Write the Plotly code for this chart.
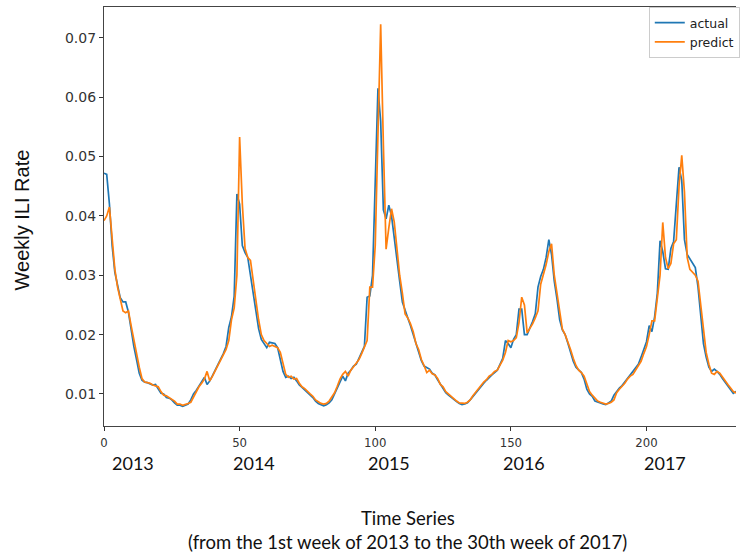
import plotly.graph_objects as go

actual = [
    0.0472, 0.0470, 0.0420, 0.0350, 0.0305, 0.0280, 0.0262, 0.0255, 0.0255, 0.0238,
    0.0205, 0.0180, 0.0158, 0.0135, 0.0123, 0.0120, 0.0119, 0.0117, 0.0115, 0.0116,
    0.0108, 0.0101, 0.0100, 0.0094, 0.0093, 0.0090, 0.0085, 0.0081, 0.0081, 0.0079,
    0.0081, 0.0083, 0.0090, 0.0100, 0.0106, 0.0113, 0.0120, 0.0128, 0.0116, 0.0122,
    0.0131, 0.0140, 0.0150, 0.0160, 0.0168, 0.0180, 0.0212, 0.0230, 0.0265, 0.0437,
    0.0420, 0.0350, 0.0338, 0.0330, 0.0300, 0.0270, 0.0240, 0.0210, 0.0192, 0.0185,
    0.0178, 0.0187, 0.0186, 0.0185, 0.0178, 0.0158, 0.0138, 0.0128, 0.0130, 0.0126,
    0.0128, 0.0122, 0.0115, 0.0111, 0.0107, 0.0103, 0.0099, 0.0094, 0.0088, 0.0084,
    0.0082, 0.0080, 0.0082, 0.0085, 0.0090, 0.0100, 0.0110, 0.0122, 0.0130, 0.0122,
    0.0135, 0.0140, 0.0147, 0.0150, 0.0161, 0.0170, 0.0180, 0.0263, 0.0265, 0.0300,
    0.0450, 0.0615, 0.0560, 0.0410, 0.0395, 0.0418, 0.0400, 0.0360, 0.0320, 0.0290,
    0.0255, 0.0240, 0.0228, 0.0215, 0.0200, 0.0188, 0.0170, 0.0156, 0.0147, 0.0144,
    0.0142, 0.0135, 0.0132, 0.0124, 0.0116, 0.0110, 0.0102, 0.0098, 0.0094, 0.0091,
    0.0087, 0.0084, 0.0082, 0.0083, 0.0085, 0.0090, 0.0096, 0.0102, 0.0108, 0.0113,
    0.0118, 0.0123, 0.0128, 0.0132, 0.0136, 0.0140, 0.0150, 0.0160, 0.0190, 0.0185,
    0.0178, 0.0192, 0.0200, 0.0243, 0.0243, 0.0200, 0.0200, 0.0210, 0.0222, 0.0235,
    0.0280, 0.0298, 0.0310, 0.0330, 0.0360, 0.0335, 0.0290, 0.0260, 0.0225, 0.0208,
    0.0200, 0.0186, 0.0170, 0.0155, 0.0145, 0.0140, 0.0136, 0.0125, 0.0108, 0.0100,
    0.0096, 0.0088, 0.0087, 0.0085, 0.0083, 0.0082, 0.0085, 0.0088, 0.0098, 0.0105,
    0.0110, 0.0114, 0.0120, 0.0128, 0.0133, 0.0138, 0.0145, 0.0150, 0.0162, 0.0175,
    0.0188, 0.0215, 0.0205, 0.0230, 0.0270, 0.0358, 0.0340, 0.0311, 0.0310, 0.0345,
    0.0357, 0.0420, 0.0482, 0.0460, 0.0360, 0.0335, 0.0328, 0.0320, 0.0313, 0.0280,
    0.0230, 0.0185, 0.0162, 0.0145, 0.0138, 0.0142, 0.0138, 0.0133, 0.0126, 0.0120,
    0.0114, 0.0108, 0.0101, 0.0104, 0.0104, 0.0102, 0.0100, 0.0098, 0.0097,
]

predict = [
    0.0392, 0.0400, 0.0415, 0.0360, 0.0310, 0.0280, 0.0260, 0.0240, 0.0237, 0.0240,
    0.0215, 0.0190, 0.0165, 0.0145, 0.0126, 0.0120, 0.0119, 0.0118, 0.0115, 0.0114,
    0.0112, 0.0104, 0.0098, 0.0097, 0.0094, 0.0090, 0.0088, 0.0083, 0.0083, 0.0081,
    0.0082, 0.0084, 0.0086, 0.0095, 0.0104, 0.0112, 0.0118, 0.0125, 0.0138, 0.0122,
    0.0130, 0.0138, 0.0148, 0.0157, 0.0166, 0.0175, 0.0190, 0.0225, 0.0245, 0.0300,
    0.0533, 0.0420, 0.0345, 0.0330, 0.0325, 0.0290, 0.0255, 0.0225, 0.0200, 0.0190,
    0.0185, 0.0180, 0.0182, 0.0180, 0.0178, 0.0170, 0.0150, 0.0133, 0.0128, 0.0130,
    0.0125, 0.0126, 0.0118, 0.0112, 0.0109, 0.0104, 0.0100, 0.0096, 0.0090, 0.0087,
    0.0084, 0.0083, 0.0084, 0.0088, 0.0094, 0.0102, 0.0113, 0.0125, 0.0133, 0.0138,
    0.0130, 0.0140, 0.0146, 0.0152, 0.0158, 0.0168, 0.0178, 0.0190, 0.0280, 0.0280,
    0.0350, 0.0530, 0.0723, 0.0520, 0.0344, 0.0380, 0.0412, 0.0390, 0.0340, 0.0300,
    0.0270, 0.0235, 0.0228, 0.0218, 0.0205, 0.0185, 0.0175, 0.0158, 0.0148, 0.0136,
    0.0140, 0.0134, 0.0132, 0.0126, 0.0116, 0.0112, 0.0104, 0.0100, 0.0095, 0.0092,
    0.0088, 0.0085, 0.0084, 0.0084, 0.0086, 0.0090, 0.0097, 0.0103, 0.0110, 0.0114,
    0.0120, 0.0124, 0.0130, 0.0133, 0.0138, 0.0140, 0.0148, 0.0157, 0.0170, 0.0190,
    0.0188, 0.0190, 0.0195, 0.0220, 0.0263, 0.0250, 0.0203, 0.0210, 0.0218, 0.0228,
    0.0240, 0.0285, 0.0300, 0.0318, 0.0340, 0.0353, 0.0300, 0.0268, 0.0235, 0.0209,
    0.0200, 0.0188, 0.0175, 0.0160, 0.0148, 0.0140, 0.0136, 0.0130, 0.0115, 0.0104,
    0.0098, 0.0092, 0.0088, 0.0086, 0.0084, 0.0083, 0.0084, 0.0086, 0.0090, 0.0102,
    0.0108, 0.0113, 0.0118, 0.0125, 0.0130, 0.0133, 0.0140, 0.0148, 0.0155, 0.0168,
    0.0180, 0.0200, 0.0223, 0.0223, 0.0260, 0.0300, 0.0389, 0.0330, 0.0311, 0.0320,
    0.0353, 0.0360, 0.0450, 0.0502, 0.0440, 0.0330, 0.0310, 0.0305, 0.0300, 0.0290,
    0.0250, 0.0200, 0.0170, 0.0150, 0.0135, 0.0133, 0.0138, 0.0135, 0.0128, 0.0122,
    0.0116, 0.0110, 0.0104, 0.0102, 0.0105, 0.0103, 0.0101, 0.0099, 0.0098,
]

weeks = list(range(len(actual)))
x_ticks = [0, 50, 100, 150, 200]
y_ticks = [0.01, 0.02, 0.03, 0.04, 0.05, 0.06, 0.07]
year_labels = ["2013", "2014", "2015", "2016", "2017"]
year_pos = [0.0456, 0.2374, 0.4513, 0.6651, 0.8884]

fig = go.Figure()
fig.add_trace(go.Scatter(x=weeks, y=actual, mode="lines", name="actual",
                         line=dict(color="#1f77b4", width=1.7)))
fig.add_trace(go.Scatter(x=weeks, y=predict, mode="lines", name="predict",
                         line=dict(color="#ff7f0e", width=1.7)))

cal = "Lato, Open Sans, sans-serif"
annotations = []
for lab, px in zip(year_labels, year_pos):
    annotations.append(dict(text=lab, x=px, y=-0.088, xref="paper", yref="paper",
                            showarrow=False, xanchor="center", yanchor="middle",
                            font=dict(family=cal, size=18, color="#111")))
annotations.append(dict(text="Time Series", x=0.481, y=-0.2196, xref="paper", yref="paper",
                        showarrow=False, xanchor="center", yanchor="middle",
                        font=dict(family=cal, size=18.5, color="#111")))
annotations.append(dict(text="(from the 1st week of 2013 to the 30th week of 2017)",
                        x=0.481, y=-0.2768, xref="paper", yref="paper",
                        showarrow=False, xanchor="center", yanchor="middle",
                        font=dict(family=cal, size=18.5, color="#111")))
annotations.append(dict(text="Weekly ILI Rate", x=-0.129, y=0.4916, xref="paper", yref="paper",
                        showarrow=False, xanchor="center", yanchor="middle", textangle=-90,
                        font=dict(family="Liberation Sans, Arial, sans-serif", size=20, color="#111")))

fig.update_layout(
    width=740, height=556,
    margin=dict(l=104, r=0, t=7, b=130),
    plot_bgcolor="white", paper_bgcolor="white",
    showlegend=True,
    legend=dict(x=0.862, y=1.0, xanchor="left", yanchor="top",
                bgcolor="white", bordercolor="#cccccc", borderwidth=1,
                font=dict(family="DejaVu Sans, sans-serif", size=12.5, color="#222"),
                tracegroupgap=0, itemwidth=30),
    annotations=annotations,
    xaxis=dict(range=[0, 233], tickvals=x_ticks, ticks="outside", ticklen=4,
               tickcolor="#333", showline=True, linecolor="#444", linewidth=1.2,
               mirror=True, showgrid=False, zeroline=False,
               tickfont=dict(family="DejaVu Sans Condensed, Liberation Sans Narrow, sans-serif",
                             size=13, color="#333")),
    yaxis=dict(range=[0.0046, 0.0752], tickvals=y_ticks, tickformat=".2f",
               ticks="outside", ticklen=4, tickcolor="#333", showline=True,
               linecolor="#444", linewidth=1.2, showgrid=False, zeroline=False,
               tickfont=dict(family="DejaVu Sans, sans-serif", size=14, color="#333")),
)

fig.write_html("out.html", config={"displayModeBar": False},
               post_script="document.body.style.margin='0px';document.body.style.overflow='hidden';")
